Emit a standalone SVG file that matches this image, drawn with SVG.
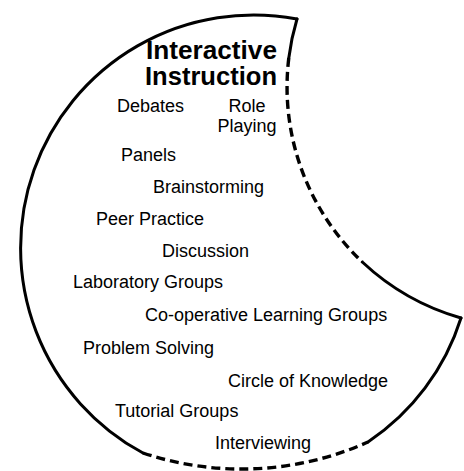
<svg xmlns="http://www.w3.org/2000/svg" width="464" height="471" viewBox="0 0 464 471">
<style>
.solid{fill:none;stroke:#000;stroke-width:3;stroke-linecap:round}
.dash{fill:none;stroke:#000;stroke-width:3.4;stroke-dasharray:9 5}
.title{font-family:"Liberation Sans",Arial,sans-serif;font-weight:bold;font-size:25px;fill:#000}
.lbl{font-family:"Liberation Sans",Arial,sans-serif;font-size:18px;fill:#000}
</style>
<rect width="464" height="471" fill="#fff"/>
<g id="connectors">
<path class="solid" d="M297,19 A233,233 0 0 0 143,453"/>
<path class="dash" d="M143,453 A310,310 0 0 0 368,442"/>
<path class="solid" d="M368,442 A233,233 0 0 0 461,318"/>
<path class="solid" d="M297,19 A241,241 0 0 0 288.8,58"/>
<path class="dash" d="M288.8,58 A241,241 0 0 0 362.3,262"/>
<path class="solid" d="M362.3,262 A241,241 0 0 0 461,318"/>
</g>
<g id="title">
<text class="title" x="277" y="59" text-anchor="end" textLength="131" lengthAdjust="spacingAndGlyphs">Interactive</text>
<text class="title" x="277" y="85" text-anchor="end" textLength="132" lengthAdjust="spacingAndGlyphs">Instruction</text>
</g>
<g id="debates"><text class="lbl" x="117" y="112">Debates</text></g>
<g id="role-playing"><text class="lbl" x="247" y="112" text-anchor="middle">Role</text><text class="lbl" x="247" y="132" text-anchor="middle">Playing</text></g>
<g id="panels"><text class="lbl" x="121" y="161">Panels</text></g>
<g id="brainstorming"><text class="lbl" x="153" y="193">Brainstorming</text></g>
<g id="peer-practice"><text class="lbl" x="96" y="225">Peer Practice</text></g>
<g id="discussion"><text class="lbl" x="162" y="257">Discussion</text></g>
<g id="laboratory-groups"><text class="lbl" x="73" y="288">Laboratory Groups</text></g>
<g id="cooperative"><text class="lbl" x="145" y="321">Co-operative Learning Groups</text></g>
<g id="problem-solving"><text class="lbl" x="83" y="354">Problem Solving</text></g>
<g id="circle-of-knowledge"><text class="lbl" x="228" y="387">Circle of Knowledge</text></g>
<g id="tutorial-groups"><text class="lbl" x="115" y="417">Tutorial Groups</text></g>
<g id="interviewing"><text class="lbl" x="215" y="449">Interviewing</text></g>
</svg>
